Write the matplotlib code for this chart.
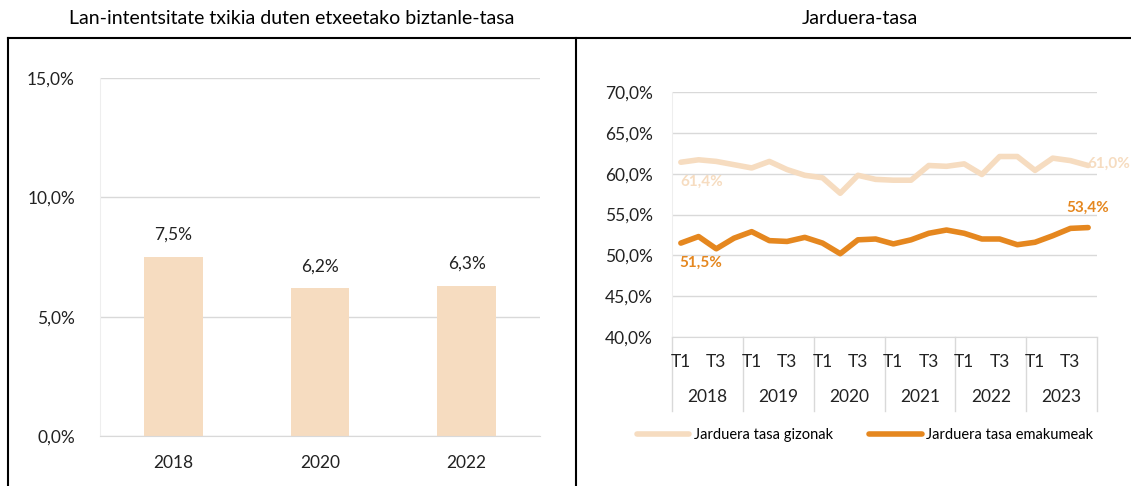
import matplotlib
matplotlib.use("Agg")
import matplotlib.pyplot as plt
from matplotlib.lines import Line2D

plt.rcParams['font.family'] = ['Lato', 'DejaVu Sans']

# left chart data
bar_years = ['2018', '2020', '2022']
bar_values = [7.5, 6.2, 6.3]

# right chart data (quarterly activity rate)
years = ['2018', '2019', '2020', '2021', '2022', '2023']
quarters = ['T1', 'T2', 'T3', 'T4']
men = [61.4, 61.7, 61.5, 61.1, 60.7, 61.5, 60.5, 59.8, 59.5, 57.6, 59.8, 59.3,
       59.2, 59.2, 61.0, 60.9, 61.2, 59.9, 62.1, 62.1, 60.4, 61.9, 61.6, 61.0]
women = [51.5, 52.3, 50.8, 52.1, 52.9, 51.8, 51.7, 52.2, 51.5, 50.2, 51.9, 52.0,
         51.4, 51.9, 52.7, 53.1, 52.7, 52.0, 52.0, 51.3, 51.6, 52.4, 53.3, 53.4]

light = '#F6DCC0'
orange = '#E5871F'
grid = '#D9D9D9'
W, H = 1131, 486
fs = 12.5

def fmt(v):
    return ('%.1f%%' % v).replace('.', ',')

fig = plt.figure(figsize=(W / 100, H / 100), dpi=100)

def px(x0, y0, x1, y1):
    return [x0 / W, 1 - y1 / H, (x1 - x0) / W, (y1 - y0) / H]

# frame lines
fig.add_artist(Line2D([8 / W, 1], [1 - 38 / H] * 2, color='black', lw=1.5))
fig.add_artist(Line2D([8 / W] * 2, [0, 1 - 38 / H], color='black', lw=1.5))
fig.add_artist(Line2D([576 / W] * 2, [0, 1 - 38 / H], color='black', lw=1.5))

fig.text(292 / W, 1 - 18 / H, 'Lan-intentsitate txikia duten etxeetako biztanle-tasa',
         ha='center', va='center', fontsize=14)
fig.text(860 / W, 1 - 18 / H, 'Jarduera-tasa', ha='center', va='center', fontsize=14)

# ---- left bar chart
ax1 = fig.add_axes(px(100, 78, 540, 436))
xs = range(len(bar_years))
ax1.bar(xs, bar_values, width=0.4, color=light, zorder=2)
for x, v in zip(xs, bar_values):
    ax1.annotate(fmt(v), (x, v), xytext=(0, 10), textcoords='offset points',
                 ha='center', va='bottom', fontsize=fs, color='#222222')
ax1.set_xlim(-0.5, 2.5)
ax1.set_ylim(0, 15)
ax1.set_yticks([0, 5, 10, 15])
ax1.set_yticklabels([fmt(v) for v in [0, 5, 10, 15]])
ax1.set_xticks(list(xs))
ax1.set_xticklabels(bar_years)
ax1.grid(axis='y', color=grid, lw=1, zorder=0)
for s in ['top', 'right']:
    ax1.spines[s].set_visible(False)
ax1.spines['left'].set_color('#EEEEEE')
ax1.spines['bottom'].set_color(grid)
ax1.tick_params(length=0, labelsize=fs, colors='#222222')
ax1.tick_params(axis='y', pad=18)
ax1.tick_params(axis='x', pad=14)

# ---- right line chart
ax2 = fig.add_axes(px(672, 92, 1097, 337))
n = len(men)
qx = list(range(n))
ax2.plot(qx, men, color=light, lw=4, solid_capstyle='round', solid_joinstyle='round')
ax2.plot(qx, women, color=orange, lw=4, solid_capstyle='round', solid_joinstyle='round')
ax2.set_xlim(-0.5, n - 0.5)
ax2.set_ylim(40, 70)
yt = [40, 45, 50, 55, 60, 65, 70]
ax2.set_yticks(yt)
ax2.set_yticklabels([fmt(v) for v in yt])
ax2.set_xticks([])
ax2.grid(axis='y', color=grid, lw=1)
for s in ['top', 'right']:
    ax2.spines[s].set_visible(False)
ax2.spines['left'].set_color('#EEEEEE')
ax2.spines['bottom'].set_color(grid)
ax2.tick_params(length=0, labelsize=fs, colors='#222222', pad=14)

tr = ax2.get_xaxis_transform()
for i in range(n):
    q = quarters[i % 4]
    if q in ('T1', 'T3'):
        ax2.text(i, -0.1, q, transform=tr, ha='center', va='center', fontsize=fs, color='#222222')
for k, y in enumerate(years):
    ax2.text(k * 4 + 1.5, -0.245, y, transform=tr, ha='center', va='center',
             fontsize=fs, color='#222222')
for k in range(len(years) + 1):
    ax2.plot([k * 4 - 0.5] * 2, [0, -0.3], transform=tr, color=grid, lw=1, clip_on=False)

ax2.annotate(fmt(men[0]), (0, men[0]), xytext=(15, -14), textcoords='offset points',
             ha='center', va='center', fontsize=11, fontweight='bold', color=light)
ax2.annotate(fmt(men[-1]), (n - 1, men[-1]), xytext=(15, 1), textcoords='offset points',
             ha='center', va='center', fontsize=11, fontweight='bold', color=light,
             annotation_clip=False)
ax2.annotate(fmt(women[0]), (0, women[0]), xytext=(14, -14), textcoords='offset points',
             ha='center', va='center', fontsize=11, fontweight='bold', color=orange)
ax2.annotate(fmt(women[-1]), (n - 1, women[-1]), xytext=(0, 14), textcoords='offset points',
             ha='center', va='center', fontsize=11, fontweight='bold', color=orange,
             annotation_clip=False)

handles = [Line2D([], [], color=light, lw=4, solid_capstyle='round'),
           Line2D([], [], color=orange, lw=4, solid_capstyle='round')]
fig.legend(handles, ['Jarduera tasa gizonak', 'Jarduera tasa emakumeak'],
           loc='center', bbox_to_anchor=(865 / W, 1 - 435 / H), ncol=2, frameon=False,
           handlelength=3.6, handletextpad=0.3, columnspacing=2.5, fontsize=10.5)

fig.savefig('out.png', dpi=100)
